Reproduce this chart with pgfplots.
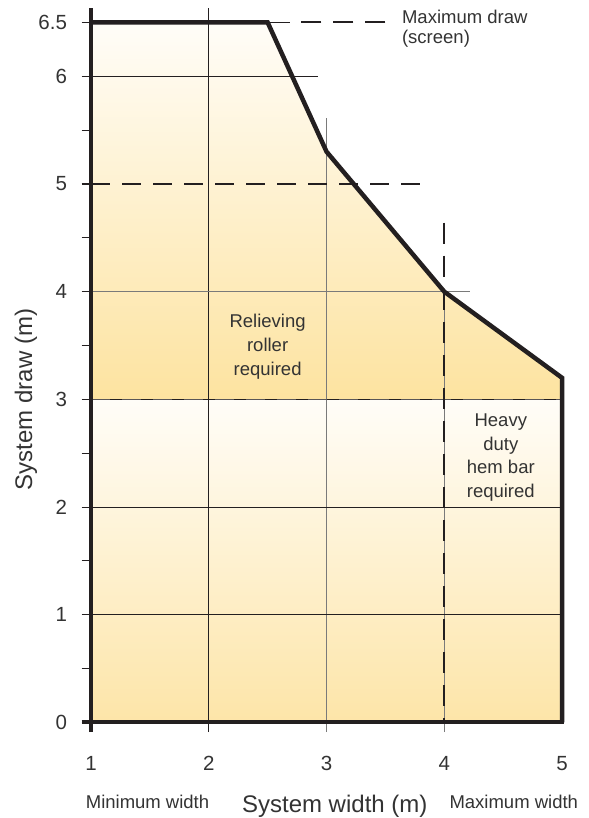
\documentclass[border=0pt]{standalone}
\usepackage{fontspec}
\setmainfont{Liberation Sans}
\usepackage{pgfplots}
\pgfplotsset{compat=1.18}

\definecolor{ink}{HTML}{231F20}
\definecolor{txt}{HTML}{333333}
\definecolor{grd}{HTML}{7A7A7A}
\definecolor{uptop}{HTML}{FFFDF8}
\definecolor{upbot}{HTML}{FDE3A0}
\definecolor{lotop}{HTML}{FFFDF8}
\definecolor{lobot}{HTML}{FDE5A8}

\newcommand{\smtxt}{\fontsize{18.5bp}{24bp}\selectfont}
\newcommand{\bgtxt}{\fontsize{24bp}{28bp}\selectfont}

\begin{document}
\begin{tikzpicture}
\begin{axis}[
  x=117.75bp, y=107.7bp,
  xmin=1, xmax=5, ymin=0, ymax=6.5,
  axis lines=left, axis line style={draw=none},
  clip=false,
  xtick={1,2,3,4,5}, xticklabels={1,2,3,4,5},
  xtick style={draw=none},
  ytick={0,1,2,3,4,5,6,6.5}, yticklabels={0,1,2,3,4,5,6,6.5},
  minor ytick={0.5,1.5,2.5,3.5,4.5,5.5},
  tick align=outside,
  major tick length=9.5bp, minor tick length=9.5bp,
  tick style={ink, line width=1.1bp},
  tick label style={font=\fontsize{20.5bp}{22bp}\selectfont, text=txt},
  /pgf/number format/assume math mode=true,
  xticklabel style={yshift=-21bp},
  yticklabel style={xshift=-11bp},
]
% shaded areas
\addplot[draw=none, top color=uptop, bottom color=upbot]
  coordinates {(1,3) (1,6.5) (2.5,6.5) (3,5.3) (4,4) (5,3.2) (5,3)};
\addplot[draw=none, top color=lotop, bottom color=lobot]
  coordinates {(1,0) (1,3) (5,3) (5,0)};

% grid
\draw[ink, line width=0.9bp] (axis cs:2,-0.09) -- (axis cs:2,6.63);
\draw[grd, line width=0.9bp] (axis cs:3,-0.09) -- (axis cs:3,5.61);
\draw[grd, line width=0.9bp] (axis cs:4,-0.09) -- (axis cs:4,4);
\draw[ink, line width=0.9bp] (axis cs:1,1) -- (axis cs:5,1);
\draw[ink, line width=0.9bp] (axis cs:1,2) -- (axis cs:5,2);
\draw[ink, line width=0.9bp] (axis cs:1,3) -- (axis cs:5,3);
\draw[grd, line width=0.9bp] (axis cs:1,4) -- (axis cs:4.22,4);
\draw[ink, line width=0.9bp] (axis cs:1,6) -- (axis cs:2.93,6);
\draw[ink, line width=0.9bp] (axis cs:1,6.5) -- (axis cs:2.69,6.5);

% dashed limits
\draw[ink, line width=2.2bp, dash pattern=on 20bp off 12bp] (axis cs:3.5,6.5) -- (axis cs:2.69,6.5);
\draw[ink, line width=1.8bp, dash pattern=on 19bp off 12bp] (axis cs:1,5) -- (axis cs:3.81,5);
\draw[ink!75, line width=1.6bp, dash pattern=on 19bp off 12bp] (axis cs:1,3) -- (axis cs:5,3);
\draw[ink, line width=1.8bp, dash pattern=on 21bp off 12bp] (axis cs:4,4.64) -- (axis cs:4,0);

% boundary
\addplot[ink, line width=4.5bp, line join=miter]
  coordinates {(1,6.5) (2.5,6.5) (3,5.3) (4,4) (5,3.2) (5,0)};
\draw[ink, line width=4.5bp] (axis cs:1,-0.09) -- (axis cs:1,6.63);
\draw[ink, line width=4bp] (axis cs:0.92,0) -- (axis cs:5.019,0);

% texts
\node[font=\smtxt, align=center, text=txt] at (axis cs:2.5,3.49) {Relieving\\roller\\required};
\node[font=\fontsize{18.5bp}{23.5bp}\selectfont, align=center, text=txt] at (axis cs:4.48,2.46) {Heavy\\duty\\hem bar\\required};
\node[font=\fontsize{18.5bp}{20bp}\selectfont, anchor=west, align=left, inner sep=0, text=txt] at (axis cs:3.64,6.44) {Maximum draw\\(screen)};
\node[font=\smtxt, anchor=base, inner sep=0, text=txt] at (axis cs:1.48,-0.803) {Minimum width};
\node[font=\bgtxt, anchor=base, inner sep=0, text=txt] at (axis cs:3.07,-0.84) {System width (m)};
\node[font=\smtxt, anchor=base, inner sep=0, text=txt] at (axis cs:4.59,-0.803) {Maximum width};
\node[font=\bgtxt, rotate=90, inner sep=0, text=txt] at (axis cs:0.448,3.0) {System draw (m)};

\coordinate (bbl) at (axis cs:0.2272,-0.8867);
\coordinate (btr) at (axis cs:5.229,6.708);
\end{axis}
\pgfresetboundingbox
\path[use as bounding box] (bbl) rectangle (btr);
\end{tikzpicture}
\end{document}
